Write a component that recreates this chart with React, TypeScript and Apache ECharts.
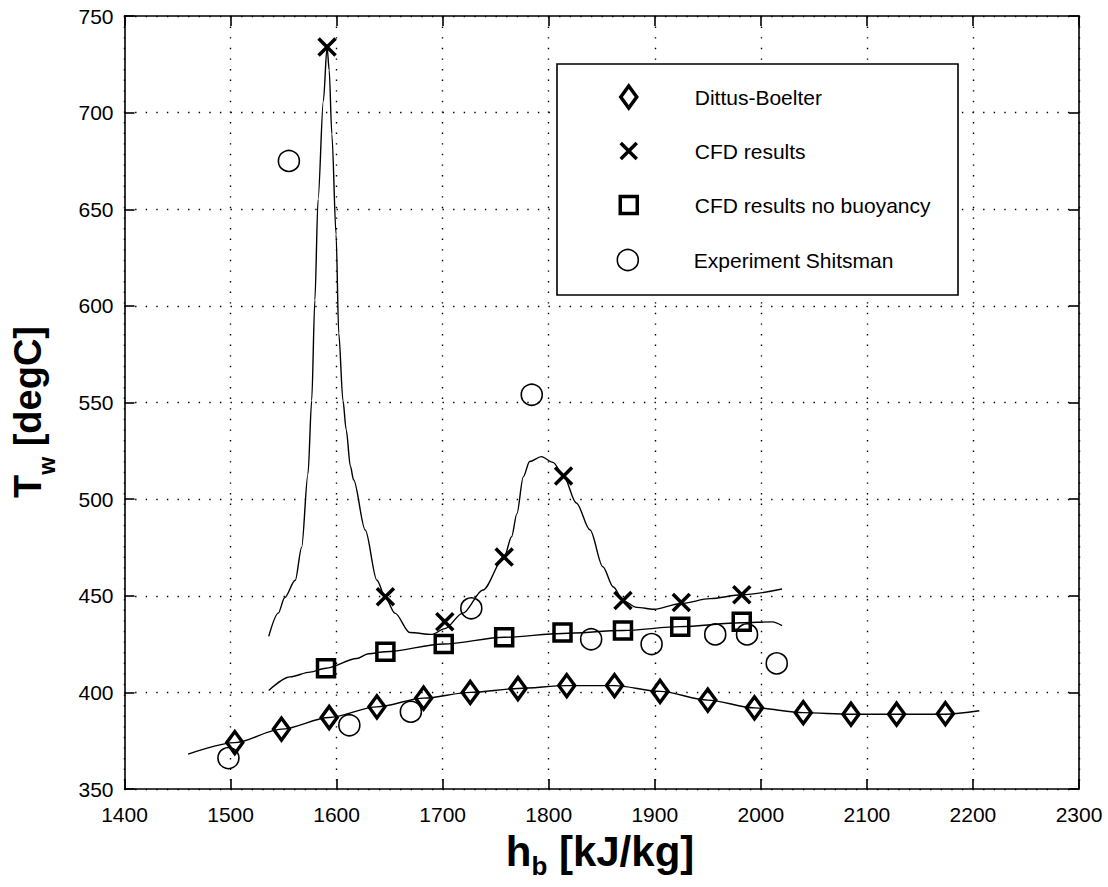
import React, { useEffect, useRef } from "react";
import * as echarts from "echarts";

const FONT = "'Liberation Sans', Arial, Helvetica, sans-serif";

const X_MIN = 1400;
const X_MAX = 2300;
const X_STEP = 100;
const Y_MIN = 350;
const Y_MAX = 750;
const Y_STEP = 50;

// Dittus-Boelter (diamonds) and its fitted curve
const dittusH = [1504, 1548, 1593, 1638, 1682, 1726, 1771, 1817, 1862, 1905, 1950, 1994, 2040, 2085, 2128, 2174];
const dittusT = [374, 381, 387, 392.5, 397, 400, 402, 403.5, 403.5, 400.5, 396, 392, 389.5, 388.7, 388.7, 389];
const dittusFitH = [1460, 1504, 1548, 1593, 1638, 1682, 1726, 1771, 1817, 1862, 1905, 1950, 1994, 2040, 2085, 2128, 2174, 2206];
const dittusFitT = [368, 374, 381, 387, 392.5, 397, 400, 402, 403.5, 403.5, 400.5, 396, 392, 389.5, 388.7, 388.7, 388.7, 390.5];

// CFD results (crosses) and curve
const cfdH = [1591, 1646, 1702, 1758, 1814, 1870, 1925, 1982];
const cfdT = [734, 449.5, 436.5, 470, 512, 447.5, 446.5, 450.5];
const cfdFitH = [1536, 1545, 1551, 1561, 1567, 1573, 1576.5, 1579.5, 1582.5, 1587.5, 1591, 1593, 1595.5, 1599.5, 1602, 1606, 1609, 1613, 1616, 1627, 1638, 1646, 1655, 1669, 1690, 1702, 1719, 1738, 1758, 1765, 1770, 1776, 1782, 1793, 1804, 1814, 1826, 1839, 1851, 1861, 1870, 1883, 1899, 1925, 1952, 1982, 2020];
const cfdFitT = [429, 441, 449, 458, 475, 513, 551, 603, 655, 706, 734, 722, 689, 637, 586, 551, 536, 517, 510, 484, 458, 449, 441, 431, 430, 433, 441, 453, 470, 480.5, 492.5, 511.5, 519.5, 522, 519, 512, 498, 484, 465, 454.5, 447.5, 444, 443, 446, 448.5, 450.5, 453.5];

// CFD results no buoyancy (squares) and curve
const noBuoyH = [1590, 1646, 1701, 1758, 1813, 1870, 1924, 1982];
const noBuoyT = [412.5, 421, 425, 428.5, 431, 432, 434, 436.5];
const noBuoyFitH = [1536, 1556, 1575, 1590, 1619, 1630, 1646, 1701, 1758, 1813, 1870, 1924, 1982, 2011, 2020];
const noBuoyFitT = [401, 408, 410.5, 412.5, 417.5, 420, 421, 425, 428.5, 430.5, 432, 434, 436, 436.5, 434.5];

// Experiment Shitsman (circles)
const expH = [1498, 1555, 1612, 1670, 1727, 1784, 1840, 1897, 1957, 1987, 2015];
const expT = [366, 675, 383, 390, 443.5, 554, 427.5, 425, 430, 430, 415];

const SERIES_NAMES = ["Dittus-Boelter", "CFD results", "CFD results no buoyancy", "Experiment Shitsman"];
const X_PATH = "path://M0,0L10,10M10,0L0,10";

const pairs = (xs: number[], ys: number[]) => xs.map((x, i) => [x, ys[i]]);

export default function App() {
  const ref = useRef<HTMLDivElement>(null);

  useEffect(() => {
    if (!ref.current) return;
    const chart = echarts.init(ref.current, null, { renderer: "svg" });

    const markerStyle = (bw: number) => ({ color: "transparent", borderColor: "#000", borderWidth: bw, opacity: 1 });
    const fitLine = (name: string, xs: number[], ys: number[]) => ({
      name,
      type: "line",
      data: pairs(xs, ys),
      showSymbol: false,
      symbol: "none",
      smooth: 0.3,
      smoothMonotone: "x",
      lineStyle: { color: "#000", width: 1.4, opacity: 1 },
      silent: true,
      z: 2,
    });

    const legendDefs = [
      { name: SERIES_NAMES[0], icon: "diamond", w: 16, h: 22, bw: 3.5, cy: 97 },
      { name: SERIES_NAMES[1], icon: X_PATH, w: 16, h: 16, bw: 3.5, cy: 151 },
      { name: SERIES_NAMES[2], icon: "rect", w: 17, h: 17, bw: 3.5, cy: 205 },
      { name: SERIES_NAMES[3], icon: "circle", w: 21, h: 21, bw: 1.6, cy: 260 },
    ];

    const axisCommon = {
      axisLine: { show: true, onZero: false, lineStyle: { color: "#000", width: 1.6 } },
      axisTick: { show: true, inside: true, length: 10, lineStyle: { color: "#000", width: 1.6 } },
    };
    const gridLine = { show: true, lineStyle: { color: "#000", width: 1.4, type: [1.4, 9.2] } };
    const tickLabel = {
      color: "#000", fontSize: 21, fontFamily: FONT, showMinLabel: true, showMaxLabel: true,
      formatter: (v: number) => String(v),
    };

    const titleRich = (size: number, sub: number, lh: number) => ({
      m: { fontFamily: FONT, fontSize: size, fontWeight: "bold", lineHeight: lh, fill: "#000" },
      s: { fontFamily: FONT, fontSize: sub, fontWeight: "bold", verticalAlign: "bottom", fill: "#000" },
    });

    const option: any = {
      animation: false,
      backgroundColor: "#fff",
      grid: { left: 124.5, right: 29, top: 16, bottom: 98, containLabel: false },
      xAxis: [
        {
          type: "value", min: X_MIN, max: X_MAX, interval: X_STEP, position: "bottom",
          ...axisCommon,
          axisLabel: { ...tickLabel, margin: 15 },
          splitLine: gridLine,
        },
        {
          type: "value", min: X_MIN, max: X_MAX, interval: X_STEP, position: "top",
          ...axisCommon,
          axisLabel: { show: false },
          splitLine: { show: false },
        },
      ],
      yAxis: [
        {
          type: "value", min: Y_MIN, max: Y_MAX, interval: Y_STEP, position: "left",
          ...axisCommon,
          axisLabel: { ...tickLabel, margin: 11 },
          splitLine: gridLine,
        },
        {
          type: "value", min: Y_MIN, max: Y_MAX, interval: Y_STEP, position: "right",
          ...axisCommon,
          axisLabel: { show: false },
          splitLine: { show: false },
        },
      ],
      legend: legendDefs.map((d) => ({
        show: true,
        selectedMode: false,
        orient: "vertical",
        left: 627 - d.w / 2,
        top: d.cy - 16,
        padding: 0,
        itemWidth: d.w,
        itemHeight: d.h,
        z: 5,
        data: [{ name: d.name, icon: d.icon, itemStyle: markerStyle(d.bw) }],
        textStyle: { fontFamily: FONT, fontSize: 21, color: "#000", lineHeight: 20, padding: [12, 0, 0, 61 - d.w / 2] },
      })),
      graphic: [
        {
          type: "rect",
          z: 3,
          shape: { x: 557, y: 64, width: 401, height: 231 },
          style: { fill: "#fff", stroke: "#000", lineWidth: 1.6 },
        },
        {
          type: "text",
          x: 600,
          y: 851,
          style: {
            text: "{m|h}{s|b}{m| [kJ/kg]}",
            align: "center",
            verticalAlign: "middle",
            textAlign: "center",
            textVerticalAlign: "middle",
            fill: "#000",
            rich: titleRich(42, 26, 56),
          },
        },
        {
          type: "text",
          x: 28,
          y: 412,
          rotation: Math.PI / 2,
          style: {
            text: "{m|T}{s|w}{m| [degC]}",
            align: "center",
            verticalAlign: "middle",
            textAlign: "center",
            textVerticalAlign: "middle",
            fill: "#000",
            rich: titleRich(38, 23, 60),
          },
        },
      ],
      series: [
        fitLine("Dittus-Boelter fit", dittusFitH, dittusFitT),
        fitLine("CFD results fit", cfdFitH, cfdFitT),
        fitLine("CFD no buoyancy fit", noBuoyFitH, noBuoyFitT),
        {
          name: SERIES_NAMES[0], type: "scatter", data: pairs(dittusH, dittusT),
          symbol: "diamond", symbolSize: [16, 22], itemStyle: markerStyle(3.5), z: 3,
        },
        {
          name: SERIES_NAMES[1], type: "scatter", data: pairs(cfdH, cfdT),
          symbol: X_PATH, symbolSize: 17, itemStyle: markerStyle(3.5), z: 3,
        },
        {
          name: SERIES_NAMES[2], type: "scatter", data: pairs(noBuoyH, noBuoyT),
          symbol: "rect", symbolSize: 17, itemStyle: markerStyle(3.5), z: 3,
        },
        {
          name: SERIES_NAMES[3], type: "scatter", data: pairs(expH, expT),
          symbol: "circle", symbolSize: 21, itemStyle: markerStyle(1.6), z: 3,
        },
      ],
    };

    chart.setOption(option);
    return () => chart.dispose();
  }, []);

  return (
    <div
      ref={ref}
      style={{ position: "fixed", left: 0, top: 0, width: 1108, height: 887, background: "#fff" }}
    />
  );
}
